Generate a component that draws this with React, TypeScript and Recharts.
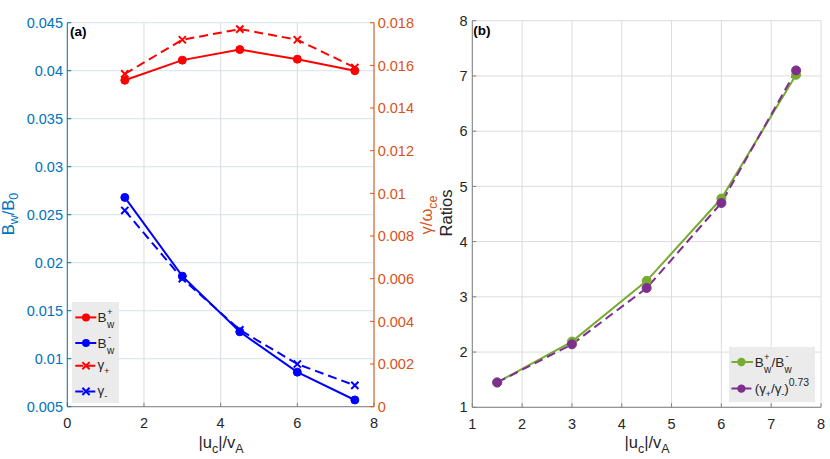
import React from 'react';
import { LineChart, Line, XAxis, YAxis, CartesianGrid, Legend } from 'recharts';

// ---------- data ----------
const xValues = [1.5, 3, 4.5, 6, 7.5];
const bPlus = [0.039, 0.0411, 0.0422, 0.0412, 0.04];
const bMinus = [0.0268, 0.0186, 0.0128, 0.0086, 0.0057];
const gammaPlus = [0.0156, 0.0172, 0.0177, 0.0172, 0.0159];
const gammaMinus = [0.0092, 0.006, 0.0036, 0.002, 0.001];

const ratioB = [1.45, 2.19, 3.29, 4.78, 7.02];
const ratioGamma = [1.45, 2.14, 3.16, 4.7, 7.1];

const leftXTicks = [0, 2, 4, 6, 8];
const leftYTicks = [0.005, 0.01, 0.015, 0.02, 0.025, 0.03, 0.035, 0.04, 0.045];
const rightYTicks = [0, 0.002, 0.004, 0.006, 0.008, 0.01, 0.012, 0.014, 0.016, 0.018];
const ratioXTicks = [1, 2, 3, 4, 5, 6, 7, 8];
const ratioYTicks = [1, 2, 3, 4, 5, 6, 7, 8];

const leftData = xValues.map((x, i) => ({
  x,
  bPlus: bPlus[i],
  bMinus: bMinus[i],
  gammaPlus: gammaPlus[i],
  gammaMinus: gammaMinus[i],
}));
const rightData = xValues.map((x, i) => ({ x, ratioB: ratioB[i], ratioGamma: ratioGamma[i] }));

// ---------- styles ----------
const FONT = '"Liberation Sans", Arial, Helvetica, sans-serif';
const BLUE_AX = '#0072BD';
const ORANGE_AX = '#D95319';
const GRAY_AX = '#808080';
const TEXT = '#262626';
const RED = '#ff0000';
const BLUE = '#0000ff';
const GREEN = '#77AC30';
const PURPLE = '#7E2F8E';
const TICK_FS = 14.5;
const LABEL_FS = 16.5;
const SUB_FS = 12.5;
const DASH = '9 5';

const fmt = (v: number) => parseFloat(v.toFixed(4)).toString();

const makeCross = (color: string) => (props: any) => {
  const { cx, cy, index } = props;
  if (cx == null || cy == null) return <g key={`c${index}`} />;
  const s = 3.6;
  return (
    <path
      key={`c${index}`}
      d={`M${cx - s},${cy - s}L${cx + s},${cy + s}M${cx - s},${cy + s}L${cx + s},${cy - s}`}
      stroke={color}
      strokeWidth={2}
      fill="none"
    />
  );
};

const LeftLegend = () => {
  const lx1 = 3.3;
  const lx2 = 24.3;
  const mx = 14;
  const tx = 25.6;
  const rows = [15.4, 41, 63.7, 89.4];
  return (
    <svg width={47} height={101} style={{ display: 'block', fontFamily: FONT }}>
      <rect x={0} y={0} width={47} height={101} fill="#ebebeb" />
      {/* B_w^+ */}
      <line x1={lx1} x2={lx2} y1={rows[0]} y2={rows[0]} stroke={RED} strokeWidth={2} />
      <circle cx={mx} cy={rows[0]} r={4} fill={RED} />
      <text x={tx} y={rows[0] + 5} fontSize={13.5} fill={TEXT}>B</text>
      <text x={tx + 9.3} y={rows[0] - 2.5} fontSize={9.5} fill={TEXT}>+</text>
      <text x={tx + 9.3} y={rows[0] + 10.5} fontSize={10} fill={TEXT}>w</text>
      {/* B_w^- */}
      <line x1={lx1} x2={lx2} y1={rows[1]} y2={rows[1]} stroke={BLUE} strokeWidth={2} />
      <circle cx={mx} cy={rows[1]} r={4} fill={BLUE} />
      <text x={tx} y={rows[1] + 5} fontSize={13.5} fill={TEXT}>B</text>
      <text x={tx + 10.3} y={rows[1] - 3} fontSize={9.5} fill={TEXT}>-</text>
      <text x={tx + 9.3} y={rows[1] + 10.5} fontSize={10} fill={TEXT}>w</text>
      {/* gamma_+ */}
      <line x1={lx1} x2={lx2} y1={rows[2]} y2={rows[2]} stroke={RED} strokeWidth={2} strokeDasharray="8 4" />
      {makeCross(RED)({ cx: mx, cy: rows[2], index: 'l3' })}
      <text x={tx} y={rows[2] + 3.5} fontSize={13.5} fill={TEXT}>γ</text>
      <text x={tx + 6.5} y={rows[2] + 8} fontSize={9.5} fill={TEXT}>+</text>
      {/* gamma_- */}
      <line x1={lx1} x2={lx2} y1={rows[3]} y2={rows[3]} stroke={BLUE} strokeWidth={2} strokeDasharray="8 4" />
      {makeCross(BLUE)({ cx: mx, cy: rows[3], index: 'l4' })}
      <text x={tx} y={rows[3] + 3.5} fontSize={13.5} fill={TEXT}>γ</text>
      <text x={tx + 6.7} y={rows[3] + 7.5} fontSize={9.5} fill={TEXT}>-</text>
    </svg>
  );
};

const RightLegend = () => {
  const lx1 = 2.4;
  const lx2 = 24;
  const mx = 12.4;
  const tx = 25.7;
  const rows = [15, 41.6];
  return (
    <svg width={86} height={55} style={{ display: 'block', fontFamily: FONT }}>
      <rect x={0} y={0} width={86} height={55} fill="#ebebeb" />
      <line x1={lx1} x2={lx2} y1={rows[0]} y2={rows[0]} stroke={GREEN} strokeWidth={2} />
      <circle cx={mx} cy={rows[0]} r={4.2} fill={GREEN} />
      <text x={tx} y={rows[0] + 5} fontSize={13.5} fill={TEXT}>B</text>
      <text x={tx + 9.3} y={rows[0] - 2.5} fontSize={9.5} fill={TEXT}>+</text>
      <text x={tx + 9.3} y={rows[0] + 10.5} fontSize={10} fill={TEXT}>w</text>
      <text x={tx + 16.8} y={rows[0] + 5} fontSize={13.5} fill={TEXT}>/B</text>
      <text x={tx + 30.8} y={rows[0] - 3} fontSize={9.5} fill={TEXT}>-</text>
      <text x={tx + 29.8} y={rows[0] + 10.5} fontSize={10} fill={TEXT}>w</text>

      <line x1={lx1} x2={lx2} y1={rows[1]} y2={rows[1]} stroke={PURPLE} strokeWidth={2} strokeDasharray="8 4" />
      <circle cx={mx} cy={rows[1]} r={4.2} fill={PURPLE} />
      <text x={tx} y={rows[1] + 4} fontSize={13.5} fill={TEXT}>(γ</text>
      <text x={tx + 10.8} y={rows[1] + 8.5} fontSize={9.5} fill={TEXT}>+</text>
      <text x={tx + 16.3} y={rows[1] + 4} fontSize={13.5} fill={TEXT}>/γ</text>
      <text x={tx + 26.5} y={rows[1] + 8.5} fontSize={9.5} fill={TEXT}>-</text>
      <text x={tx + 29.5} y={rows[1] + 4} fontSize={13.5} fill={TEXT}>)</text>
      <text x={tx + 34} y={rows[1] - 2.5} fontSize={10.5} fill={TEXT}>0.73</text>
    </svg>
  );
};

const LeftPanel = () => (
  <LineChart
    width={440}
    height={459}
    data={leftData}
    margin={{ top: 22.7, right: 0, bottom: 0, left: 0 }}
    style={{ fontFamily: FONT }}
  >
    <CartesianGrid xAxisId="bottom" yAxisId="left" vertical={false} stroke="#d4e4f1" />
    <CartesianGrid xAxisId="bottom" yAxisId="left" horizontal={false} stroke="#dcdcdc" />
    <XAxis
      xAxisId="bottom"
      dataKey="x"
      type="number"
      domain={[0, 8]}
      ticks={leftXTicks}
      height={52.3}
      tickSize={-4}
      tickMargin={15}
      stroke={GRAY_AX}
      tick={{ fill: TEXT, fontSize: TICK_FS }}
      allowDataOverflow
    />
    <XAxis
      xAxisId="top"
      orientation="top"
      dataKey="x"
      type="number"
      domain={[0, 8]}
      ticks={leftXTicks}
      height={0}
      tickSize={-4}
      tick={false}
      stroke={GRAY_AX}
    />
    <YAxis
      yAxisId="left"
      domain={[0.005, 0.045]}
      ticks={leftYTicks}
      width={67.3}
      tickSize={-4}
      tickMargin={8.3}
      stroke={BLUE_AX}
      tick={{ fill: BLUE_AX, fontSize: TICK_FS }}
      tickFormatter={fmt}
      allowDataOverflow
    />
    <YAxis
      yAxisId="right"
      orientation="right"
      domain={[0, 0.018]}
      ticks={rightYTicks}
      width={66}
      tickSize={-4}
      tickMargin={7.7}
      stroke={ORANGE_AX}
      tick={{ fill: ORANGE_AX, fontSize: TICK_FS }}
      tickFormatter={fmt}
      allowDataOverflow
    />
    <Line xAxisId="bottom" yAxisId="left" dataKey="bPlus" name="B+" stroke={RED} strokeWidth={2}
      dot={{ r: 4, fill: RED, stroke: RED, strokeWidth: 1 }} isAnimationActive={false} />
    <Line xAxisId="bottom" yAxisId="left" dataKey="bMinus" name="B-" stroke={BLUE} strokeWidth={2}
      dot={{ r: 4, fill: BLUE, stroke: BLUE, strokeWidth: 1 }} isAnimationActive={false} />
    <Line xAxisId="bottom" yAxisId="right" dataKey="gammaPlus" name="γ+" stroke={RED} strokeWidth={2}
      strokeDasharray={DASH} dot={makeCross(RED)} isAnimationActive={false} />
    <Line xAxisId="bottom" yAxisId="right" dataKey="gammaMinus" name="γ-" stroke={BLUE} strokeWidth={2}
      strokeDasharray={DASH} dot={makeCross(BLUE)} isAnimationActive={false} />
    <Legend
      layout="horizontal"
      align="center"
      verticalAlign="middle"
      wrapperStyle={{ left: 71.7, top: 302.3, width: 47, height: 101 }}
      content={() => <LeftLegend />}
    />
  </LineChart>
);

const RightPanel = () => (
  <LineChart
    width={410}
    height={459}
    data={rightData}
    margin={{ top: 20.7, right: 9, bottom: 0, left: 0 }}
    style={{ fontFamily: FONT }}
  >
    <CartesianGrid stroke="#dcdcdc" />
    <XAxis
      dataKey="x"
      type="number"
      domain={[1, 8]}
      ticks={ratioXTicks}
      height={51.7}
      tickSize={-4}
      tickMargin={15}
      stroke={GRAY_AX}
      tick={{ fill: TEXT, fontSize: TICK_FS }}
    />
    <XAxis
      xAxisId="top"
      orientation="top"
      dataKey="x"
      type="number"
      domain={[1, 8]}
      ticks={ratioXTicks}
      height={0}
      tickSize={-4}
      tick={false}
      stroke={GRAY_AX}
    />
    <YAxis
      domain={[1, 8]}
      ticks={ratioYTicks}
      width={52.3}
      tickSize={-4}
      tickMargin={8.6}
      stroke={GRAY_AX}
      tick={{ fill: TEXT, fontSize: TICK_FS }}
    />
    <YAxis
      yAxisId="r"
      orientation="right"
      domain={[1, 8]}
      ticks={ratioYTicks}
      width={0}
      tickSize={-4}
      tick={false}
      stroke={GRAY_AX}
    />
    <Line dataKey="ratioB" name="B+/B-" stroke={GREEN} strokeWidth={2}
      dot={{ r: 4.5, fill: GREEN, stroke: GREEN, strokeWidth: 1 }} isAnimationActive={false} />
    <Line dataKey="ratioGamma" name="(γ+/γ-)^0.73" stroke={PURPLE} strokeWidth={2} strokeDasharray={DASH}
      dot={{ r: 4.5, fill: PURPLE, stroke: PURPLE, strokeWidth: 1, strokeDasharray: '' }} isAnimationActive={false} />
    <Legend
      layout="horizontal"
      align="center"
      verticalAlign="middle"
      wrapperStyle={{ left: 309.3, top: 346.7, width: 86, height: 55 }}
      content={() => <RightLegend />}
    />
  </LineChart>
);

const Labels = () => (
  <svg
    width={830}
    height={459}
    style={{ position: 'absolute', left: 0, top: 0, pointerEvents: 'none', fontFamily: FONT }}
  >
    <text x={70} y={35.5} fontSize={13.5} fontWeight="bold" fill="#000">(a)</text>
    <text x={473.3} y={34.5} fontSize={13.5} fontWeight="bold" fill="#000">(b)</text>

    <text x={221} y={448} fontSize={LABEL_FS} fill={TEXT} textAnchor="middle">
      |u<tspan dy={4.5} fontSize={SUB_FS}>c</tspan>
      <tspan dy={-4.5}>|/v</tspan>
      <tspan dy={4.5} fontSize={SUB_FS}>A</tspan>
    </text>
    <text x={647} y={448} fontSize={LABEL_FS} fill={TEXT} textAnchor="middle">
      |u<tspan dy={4.5} fontSize={SUB_FS}>c</tspan>
      <tspan dy={-4.5}>|/v</tspan>
      <tspan dy={4.5} fontSize={SUB_FS}>A</tspan>
    </text>

    <text transform="translate(13.5,214) rotate(-90)" fontSize={LABEL_FS} fill={BLUE_AX} textAnchor="middle">
      B<tspan dy={4.5} fontSize={SUB_FS}>w</tspan>
      <tspan dy={-4.5}>/B</tspan>
      <tspan dy={4.5} fontSize={SUB_FS}>0</tspan>
    </text>
    <text transform="translate(432,215) rotate(-90)" fontSize={LABEL_FS} fill={ORANGE_AX} textAnchor="middle">
      γ/ω<tspan dy={4.5} fontSize={SUB_FS}>ce</tspan>
    </text>
    <text transform="translate(452,213) rotate(-90)" fontSize={LABEL_FS} fill={TEXT} textAnchor="middle">
      Ratios
    </text>
  </svg>
);

export default function App() {
  return (
    <div
      style={{
        position: 'absolute',
        left: 0,
        top: 0,
        width: 830,
        height: 459,
        background: '#ffffff',
        fontFamily: FONT,
        overflow: 'hidden',
      }}
    >
      <div style={{ position: 'absolute', left: 0, top: 0 }}>
        <LeftPanel />
      </div>
      <div style={{ position: 'absolute', left: 420, top: 0 }}>
        <RightPanel />
      </div>
      <Labels />
    </div>
  );
}
